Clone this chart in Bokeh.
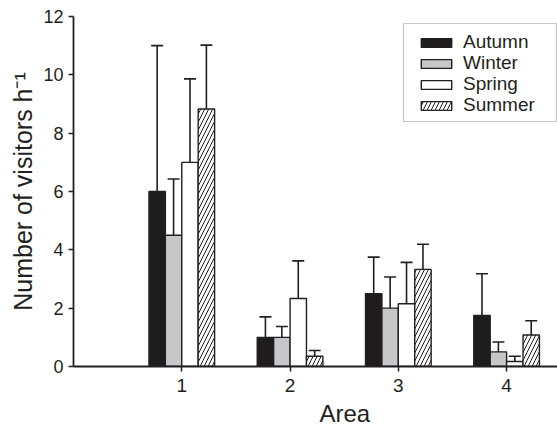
from bokeh.plotting import figure
from bokeh.models import (ColumnDataSource, Range1d, Whisker, TeeHead, Legend,
                          LegendItem, FixedTicker, BoxAnnotation, Title)
from bokeh.transform import dodge
from bokeh.embed import file_html
from bokeh.resources import INLINE

# ---- data ----
areas = [1, 2, 3, 4]
seasons = ["Autumn", "Winter", "Spring", "Summer"]
autumn = [6.0, 1.0, 2.5, 1.75]
autumn_err = [5.0, 0.7, 1.25, 1.43]
winter = [4.5, 1.0, 2.0, 0.5]
winter_err = [1.93, 0.37, 1.07, 0.34]
spring = [7.0, 2.33, 2.15, 0.17]
spring_err = [2.86, 1.29, 1.42, 0.18]
summer = [8.83, 0.35, 3.33, 1.08]
summer_err = [2.19, 0.2, 0.86, 0.49]
y_ticks = [0, 2, 4, 6, 8, 10, 12]

INK = "#231f20"
FONT = "Liberation Sans"

src = ColumnDataSource(dict(
    area=areas,
    autumn=autumn, autumn_up=[v + e for v, e in zip(autumn, autumn_err)],
    winter=winter, winter_up=[v + e for v, e in zip(winter, winter_err)],
    spring=spring, spring_up=[v + e for v, e in zip(spring, spring_err)],
    summer=summer, summer_up=[v + e for v, e in zip(summer, summer_err)],
))

p = figure(width=557, height=430, output_backend="svg", toolbar_location=None,
           x_range=Range1d(0, 4.47), y_range=Range1d(0, 12),
           min_border_left=73, min_border_right=0, min_border_top=16,
           min_border_bottom=63)
p.outline_line_color = None
p.xgrid.visible = False
p.ygrid.visible = False
p.background_fill_color = "white"
p.border_fill_color = "white"

bw = 0.1516
offsets = [-1.5 * bw, -0.5 * bw, 0.5 * bw, 1.5 * bw]
styles = [
    dict(fill_color="#1e1c1d"),
    dict(fill_color="#c6c7c8"),
    dict(fill_color="white"),
    dict(fill_color="white", hatch_pattern="/", hatch_color=INK,
         hatch_scale=8, hatch_weight=1),
]
keys = ["autumn", "winter", "spring", "summer"]

renderers = []
for key, off, st in zip(keys, offsets, styles):
    w = Whisker(source=src, base=dodge("area", off), lower=key, upper=key + "_up",
                dimension="height", line_color=INK, line_width=1.6,
                lower_head=None,
                upper_head=TeeHead(size=12, line_color=INK, line_width=1.6),
                level="underlay")
    p.add_layout(w)
    r = p.vbar(x=dodge("area", off), top=key, bottom=0, width=bw, source=src,
               line_color=INK, line_width=1.4, **st)
    renderers.append(r)

for ax in (p.xaxis[0], p.yaxis[0]):
    ax.axis_line_color = INK
    ax.axis_line_width = 1.8
    ax.major_tick_line_color = INK
    ax.major_tick_line_width = 1.5
    ax.major_tick_out = 5
    ax.major_tick_in = 0
    ax.minor_tick_line_color = None
    ax.major_label_text_font = FONT
    ax.major_label_text_color = INK
    ax.axis_label_text_font = FONT
    ax.axis_label_text_color = INK
    ax.axis_label_text_font_style = "normal"

p.xaxis.ticker = FixedTicker(ticks=areas)
p.yaxis.ticker = FixedTicker(ticks=y_ticks)
p.xaxis.major_label_text_font_size = "19px"
p.yaxis.major_label_text_font_size = "18px"
p.xaxis.major_label_standoff = 7
p.yaxis.major_label_standoff = 5
p.yaxis.axis_label = "Number of visitors h\u207b\u00b9"
p.yaxis.axis_label_text_font_size = "25px"
p.yaxis.axis_label_standoff = 3

# x-axis title, set to the right of the frame centre as in the original
p.add_layout(Title(text="Area", align="left", offset=246, text_font=FONT,
                   text_font_size="24px", text_font_style="normal",
                   text_color=INK, standoff=7), "below")

# legend frame
p.add_layout(BoxAnnotation(left=330, right=483, bottom=245, top=343,
                           left_units="screen", right_units="screen",
                           bottom_units="screen", top_units="screen",
                           fill_color="white", fill_alpha=1,
                           line_color="#444444", line_width=1.2,
                           level="annotation"))

# one legend entry per row
row_y = [312, 291, 270, 249]
for s, r, yy in zip(seasons, renderers, row_y):
    p.add_layout(Legend(items=[LegendItem(label=s, renderers=[r])],
                        location=(344, yy), orientation="vertical",
                        border_line_color=None, background_fill_alpha=0,
                        label_text_font=FONT, label_text_font_size="19px",
                        label_text_color=INK, label_standoff=8,
                        glyph_width=38, glyph_height=11, label_height=24,
                        spacing=0, padding=0, margin=0))

open("out.html", "w").write(file_html(p, INLINE))
